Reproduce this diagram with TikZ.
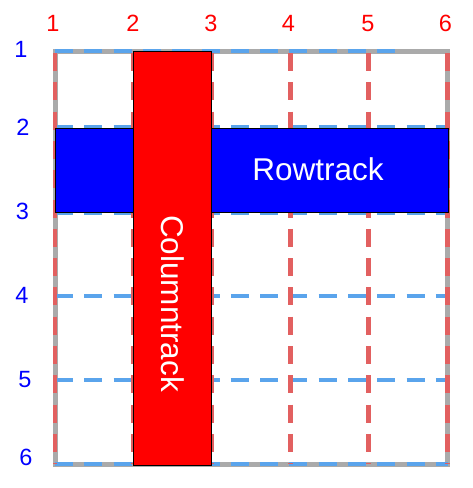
\documentclass[tikz,border=0pt]{standalone}
\usepackage{fontspec}
\setmainfont{Liberation Sans}
\definecolor{gridgrey}{RGB}{170,170,170}
\definecolor{rowdash}{RGB}{90,164,236}
\definecolor{coldash}{RGB}{226,96,96}
\definecolor{rowfill}{RGB}{0,0,255}
\definecolor{colfill}{RGB}{255,0,0}
\begin{document}
\begin{tikzpicture}[x=1pt,y=-1pt,
  border/.style={draw=gridgrey,line width=5pt},
  rowline/.style={draw=rowdash,line width=4.4pt,dash pattern=on 18pt off 11.3pt},
  colline/.style={draw=coldash,line width=4.7pt,dash pattern=on 18pt off 11.3pt},
  track/.style={draw=black,line width=1pt,inner sep=0pt,outer sep=0pt},
  tracktext/.style={text=white,font=\fontsize{31.5}{36}\selectfont,inner sep=0pt},
  collabel/.style={text=colfill,font=\fontsize{23.5}{26}\selectfont,inner sep=0pt},
  rowlabel/.style={text=rowfill,font=\fontsize{23.5}{26}\selectfont,inner sep=0pt}]
\useasboundingbox (0,0) rectangle (472,488);
\fill[white] (0,0) rectangle (472,488);
% border
\draw[border] (55,51) rectangle (447.5,464);
% row lines
\draw[rowline] (55,51) -- (402,51);
\foreach \y in {127.5,213,296,380,464}
  \draw[rowline] (55,\y) -- (447.5,\y);
% column lines
\foreach \x in {55,133.4,211.8,290.2,368.6,447.5}
  \draw[colline] (\x,53) -- (\x,464);
% tracks
\node[track,fill=rowfill,minimum width=393.3pt,minimum height=84.5pt] (rowtrack) at (251.65,170.3) {};
\node[track,fill=colfill,minimum width=78.4pt,minimum height=414pt] (coltrack) at (172.5,258) {};
\node[tracktext,anchor=center] (rowtext) at (318,169) {Rowtrack};
\node[tracktext,rotate=-90,anchor=center] (coltext) at (172.5,303.5) {Columntrack};
% column labels
\foreach \x/\t in {53/1,133/2,211/3,288.5/4,368/5,445.5/6}
  \node[collabel] (c\t) at (\x,23.5) {\t};
% row labels
\node[rowlabel] (r1) at (21,49.5) {1};
\node[rowlabel] (r2) at (23,127) {2};
\node[rowlabel] (r3) at (22.5,211.5) {3};
\node[rowlabel] (r4) at (22,295) {4};
\node[rowlabel] (r5) at (25,380) {5};
\node[rowlabel] (r6) at (26,457.5) {6};
\end{tikzpicture}
\end{document}
